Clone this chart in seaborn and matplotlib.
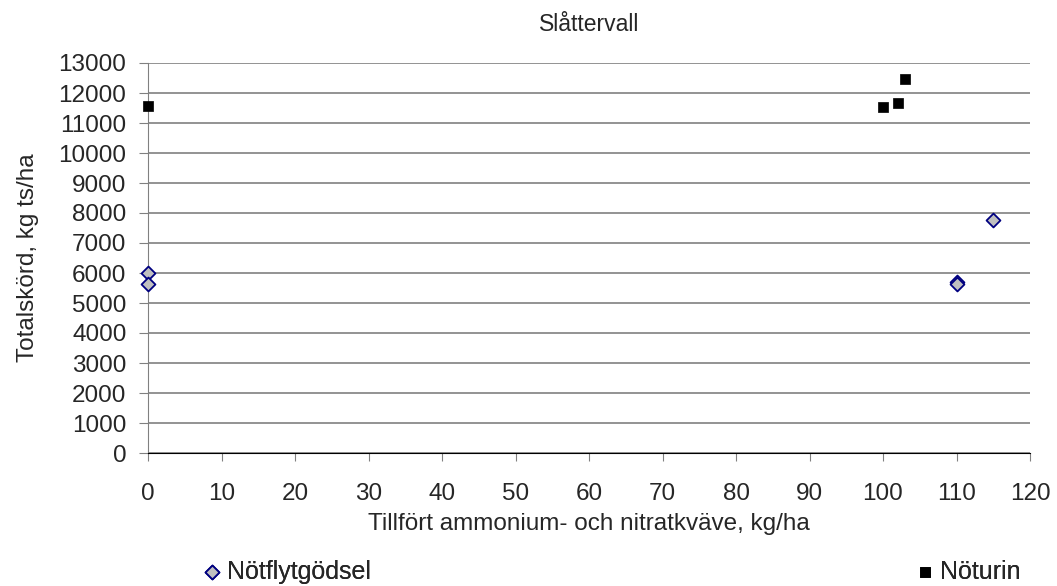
import numpy as np
import pandas as pd
from matplotlib import pyplot as plt
import seaborn as sns

# Data
flyt_x = [0, 0, 110, 110, 115]
flyt_y = [6000, 5650, 5700, 5620, 7780]
urin_x = [0, 100, 102, 103]
urin_y = [11560, 11530, 11680, 12480]

flyt = pd.DataFrame({"x": flyt_x, "y": flyt_y})
urin = pd.DataFrame({"x": urin_x, "y": urin_y})

sns.set_style("white")
plt.rcParams["font.family"] = ["Liberation Sans", "DejaVu Sans"]

W, H = 1057, 586
fig = plt.figure(figsize=(W / 100, H / 100), dpi=100)
ax = fig.add_axes([148 / W, 1 - 453 / H, 882 / W, 390 / H])

sns.scatterplot(data=flyt, x="x", y="y", ax=ax, marker="D", s=80,
                color="#c0c0c0", edgecolor="#000080", linewidth=1.3,
                label="Nötflytgödsel", zorder=3, clip_on=False)
sns.scatterplot(data=urin, x="x", y="y", ax=ax, marker="s", s=120,
                color="black", edgecolor="black", linewidth=0.5,
                label="Nöturin", zorder=3, clip_on=False)

ax.set_xlim(0, 120)
ax.set_ylim(0, 13000)
ax.set_xticks(np.arange(0, 121, 10))
ax.set_yticks(np.arange(0, 13001, 1000))
ax.grid(axis="y", color="#808080", linewidth=1.2)
ax.grid(axis="x", visible=False)
ax.set_axisbelow(True)

for s in ["top", "right"]:
    ax.spines[s].set_visible(False)
ax.spines["left"].set_color("#808080")
ax.spines["bottom"].set_color("black")
ax.tick_params(axis="both", direction="out", color="#808080",
               labelsize=17.5, left=True, bottom=True)
ax.tick_params(axis="x", length=5.5, pad=16)
ax.tick_params(axis="y", length=6.5, pad=9)

ax.set_title("Slåttervall", fontsize=16.5, pad=23)
ax.set_xlabel("Tillfört ammonium- och nitratkväve, kg/ha", fontsize=17.5, labelpad=6)
ax.set_ylabel("Totalskörd, kg ts/ha", fontsize=17.5, labelpad=14)

ax.get_legend().remove()
handles, labels = ax.get_legend_handles_labels()
handles[0].set_sizes([50])
handles[1].set_sizes([55])
for h, l, x0 in zip(handles, labels, [202, 915]):
    leg = fig.legend([h], [l], loc="center left", bbox_to_anchor=(x0 / W, 14 / H),
                     frameon=False, fontsize=18, borderaxespad=0, borderpad=0,
                     handlelength=0.8, handletextpad=0.2)
    fig.add_artist(leg)

fig.savefig("out.png", dpi=100)
